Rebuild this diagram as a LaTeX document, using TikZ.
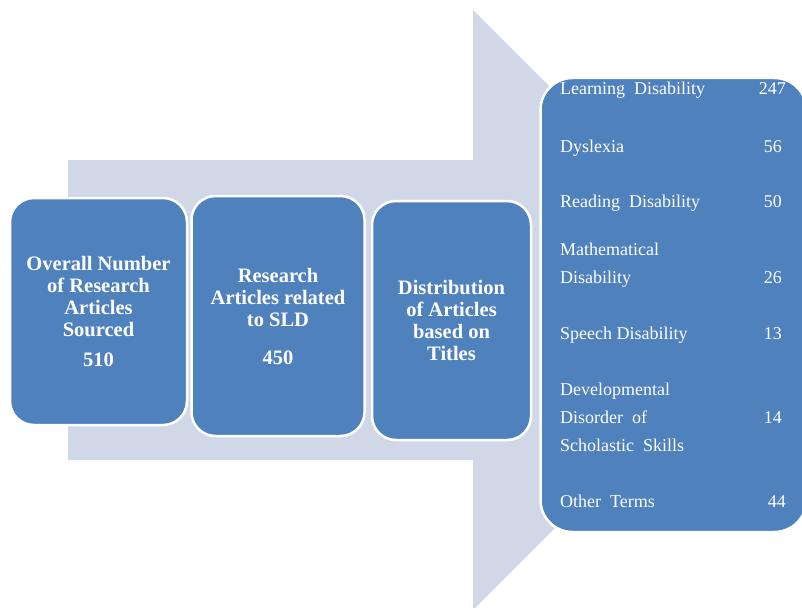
\documentclass[tikz,border=0pt]{standalone}
\usepackage{fontspec}
\setmainfont{Liberation Serif}
\usetikzlibrary{positioning}
\definecolor{boxblue}{HTML}{4F81BD}
\definecolor{arrowgrey}{HTML}{D0D8E8}
\begin{document}
\begin{tikzpicture}[x=1pt,y=-1pt,
  every node/.style={text=white,inner sep=0pt},
  stage/.style={draw=white,line width=2.5pt,fill=boxblue,rounded corners=24pt,align=center,font=\fontsize{20.5}{22}\selectfont\bfseries},
  term/.style={anchor=base west,font=\fontsize{18}{20}\selectfont},
  count/.style={anchor=base east,font=\fontsize{18}{20}\selectfont}]
  \useasboundingbox (0,0) rectangle (802,607);
  \clip (0,0) rectangle (802,607);
  \fill[arrowgrey] (68,160) -- (473,160) -- (473,10) -- (773,310) -- (473,610) -- (473,460) -- (68,460) -- cycle;
  \node[stage,minimum width=177pt,minimum height=227pt] (overall) at (98.5,311.5) {Overall Number\\of Research\\Articles\\Sourced\\[8pt]510};
  \node[stage,minimum width=173pt,minimum height=240pt] (sld) [right=2pt of overall,yshift=-4.5pt] {Research\\Articles related\\to SLD\\[16pt]450};
  \node[stage,minimum width=159pt,minimum height=239pt] (dist) [right=5pt of sld,yshift=-4.5pt] {Distribution\\of Articles\\based on\\Titles};
  \node[draw=white,line width=2.5pt,fill=boxblue,rounded corners=32pt,minimum width=266pt,minimum height=454pt] (titles) [right=7pt of dist,yshift=15.5pt] {};
  \node[term] (ld) at (560,95) {Learning\ \ Disability};
  \node[count] (ldn) at (786,95) {247};
  \node[term] (dys) at (560,152) {Dyslexia};
  \node[count] (dysn) at (782,152) {56};
  \node[term] (rd) at (560,207) {Reading\ \ Disability};
  \node[count] (rdn) at (782,207) {50};
  \node[term] (md) at (560,255) {Mathematical};
  \node[term] (md2) at (560,283) {Disability};
  \node[count] (mdn) at (782,283) {26};
  \node[term] (sd) at (560,339) {Speech Disability};
  \node[count] (sdn) at (782,339) {13};
  \node[term] (dd) at (560,395) {Developmental};
  \node[term] (dd2) at (560,423) {Disorder\ \ of};
  \node[term] (dd3) at (560,451) {Scholastic\ \ Skills};
  \node[count] (ddn) at (782,423) {14};
  \node[term] (ot) at (560,507) {Other\ \ Terms};
  \node[count] (otn) at (786,507) {44};
\end{tikzpicture}
\end{document}
